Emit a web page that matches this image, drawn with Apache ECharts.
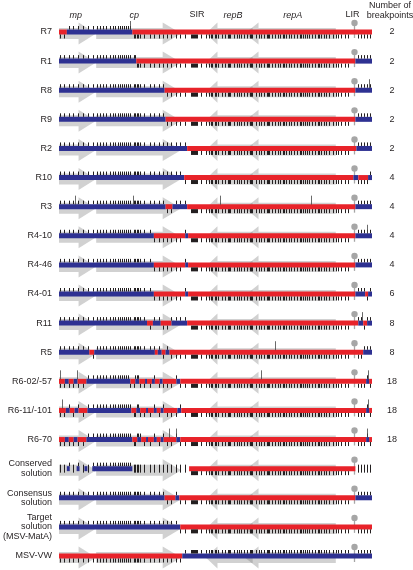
<!DOCTYPE html>
<html><head><meta charset="utf-8">
<script src="https://cdn.jsdelivr.net/npm/echarts@6/dist/echarts.min.js"></script>
<style>html,body{margin:0;padding:0;background:#fff}#c{width:413px;height:570px}</style>
</head><body><div id="c"></div>
<script>
// ---------------- DATA ----------------
const rowNames = ['R7','R1','R8','R9','R2','R10','R3','R4-10','R4-46','R4-01','R11','R5',
  'R6-02/-57','R6-11/-101','R6-70','Conserved\nsolution','Consensus\nsolution',
  'Target\nsolution\n(MSV-MatA)','MSV-VW'];
const breakpointCounts = [2,2,2,2,2,4,4,4,4,6,8,8,18,18,18,'','','',''];
const genomeLength = 2560; // approximate nt
// gene arrows: [name, start, headStart, end, direction]  (direction -1: tip at start)
const geneArrows = [
  ['mp', 0, 160, 304, 1],
  ['cp', 304, 848, 1000, 1],
  ['repB', 1200, 1296, 1584, -1],
  ['repA', 1520, 1632, 2264, -1]
];
// header labels: [text, position, italic]
const featureLabels = [['mp',136,true],['cp',616,true],['SIR',1128,false],['repB',1424,true],['repA',1912,true],['LIR',2400,false]];
const lirPosition = 2416;
// parental origin segments: [parent, start, end]  B = blue parent, R = red parent, W = undetermined
const segR7 = [['R',0,64],['B',64,600],['R',600,2560]];
const segR1 = [['B',0,632],['R',632,2424],['B',2424,2560]];
const segR8 = [['B',0,864],['R',864,2424],['B',2424,2560]];
const segR9 = [['B',0,872],['R',872,2424],['B',2424,2560]];
const segR2 = [['B',0,1048],['R',1048,2432],['B',2432,2560]];
const segR10 = [['B',0,1024],['R',1024,2408],['B',2408,2448],['R',2448,2528],['B',2528,2560]];
const segR3 = [['B',0,872],['R',872,928],['B',928,1048],['R',1048,2424],['B',2424,2560]];
const segR4_10 = [['B',0,776],['R',776,1032],['B',1032,1056],['R',1056,2424],['B',2424,2560]];
const segR4_46 = [['B',0,776],['R',776,1032],['B',1032,1056],['R',1056,2424],['B',2424,2560]];
const segR4_01 = [['B',0,776],['R',776,1032],['B',1032,1056],['R',1056,2424],['B',2424,2504],['R',2504,2528],['B',2528,2560]];
const segR11 = [['B',0,720],['R',720,768],['B',768,832],['R',832,920],['B',920,1048],['R',1048,2448],['B',2448,2488],['R',2488,2520],['B',2520,2560]];
const segR5 = [['B',0,248],['R',248,288],['B',288,784],['R',784,808],['B',808,840],['R',840,872],['B',872,904],['R',904,2488],['B',2488,2560]];
const segR6_02 = [['R',0,48],['B',48,80],['R',80,120],['B',120,152],['R',152,224],['B',224,584],['R',584,624],['B',624,656],['R',656,704],['B',704,720],['R',720,760],['B',760,784],['R',784,824],['B',824,848],['R',848,960],['B',960,992],['R',992,2512],['B',2512,2536],['R',2536,2560]];
const segR6_11 = [['R',0,56],['B',56,88],['R',88,128],['B',128,160],['R',160,232],['B',232,592],['R',592,632],['B',632,664],['R',664,712],['B',712,728],['R',728,776],['B',776,800],['R',800,832],['B',832,856],['R',856,968],['B',968,1000],['R',1000,2512],['B',2512,2536],['R',2536,2560]];
const segR6_70 = [['R',0,48],['B',48,80],['R',80,120],['B',120,152],['R',152,224],['B',224,600],['R',600,640],['B',640,672],['R',672,712],['B',712,728],['R',728,776],['B',776,800],['R',800,832],['B',832,856],['R',856,960],['B',960,992],['R',992,2512],['B',2512,2536],['R',2536,2560]];
const segConserved = [['W',0,64],['B',64,88],['W',88,144],['B',144,168],['W',168,208],['B',208,232],['W',232,272],['B',272,296],['B',288,600],['W',600,1064],['R',1064,2424],['W',2424,2560]];
const segConsensus = [['B',0,864],['R',864,952],['B',952,984],['R',984,2424],['B',2424,2560]];
const segTarget = [['B',0,992],['R',992,2560]];
const segMSVVW = [['R',0,1008],['B',1008,2560]];
const rowSegments = [segR7,segR1,segR8,segR9,segR2,segR10,segR3,segR4_10,segR4_46,segR4_01,segR11,segR5,segR6_02,segR6_11,segR6_70,segConserved,segConsensus,segTarget,segMSVVW];
// polymorphic sites (approximate nt)
const polymorphicSites = [8,40,80,112,152,200,240,280,
  312,336,360,384,416,440,456,480,496,512,528,552,568,584,
  616,624,640,648,664,696,744,776,
  816,848,880,920,960,992,1032,
  1080,1088,1096,1104,1112,1120,1128,1160,
  1200,1224,1240,1248,1272,1288,1304,1336,1360,1384,1392,1400,1432,1456,1472,1488,
  1512,1536,1560,1568,1576,1608,1632,1656,1680,1704,1712,1720,1744,1768,1792,1808,
  1832,1840,1856,1880,1896,1920,1944,1968,1976,1992,2008,2032,2048,2072,2096,2120,2128,
  2144,2168,2184,2208,2240,2264,
  2280,2304,2336,2360,2448,2472,2496,2520,2544];
// additional (tall) mutation marks per row
const rowMutations = [[584],[],[2536],[],[],[],[128,608,1320,2064],[2520],[],[],[2480],[1768],
  [8,144,1656,2528],[24,2528],[896,960,2520],[],[],[],[]];

// ---------------- CHART ----------------
const BLUE = '#2e3192', RED = '#e8232a', INK = '#231f20';
const FONT = 'Liberation Sans, Arial, sans-serif';
const chart = echarts.init(document.getElementById('c'), null, {renderer:'canvas'});
const rowData = rowNames.map((_, i) => [0, i]);

function arrowItem(params, api){
  const row = api.value(1), g = geneArrows[api.value(0)];
  const ps = api.coord([g[1], row]), ph = api.coord([g[2], row]), pe = api.coord([g[3], row]);
  const y = ps[1] + 1.5, b = 5.5, h = 11;
  let pts;
  if (g[4] === 1) {
    pts = [[ps[0],y-b],[ph[0],y-b],[ph[0],y-h],[pe[0],y],[ph[0],y+h],[ph[0],y+b],[ps[0],y+b]];
  } else {
    pts = [[ps[0],y],[ph[0],y-h],[ph[0],y-b],[pe[0],y-b],[pe[0],y+b],[ph[0],y+b],[ph[0],y+h]];
  }
  return {type:'polygon', shape:{points:pts}, style:{fill:'rgba(120,120,120,0.34)'}};
}
const arrowData = [];
rowNames.forEach((_, r) => geneArrows.forEach((g, k) => arrowData.push([k, r])));

function lirItem(params, api){
  const p = api.coord([lirPosition, api.value(1)]);
  const x = Math.round(p[0]) + 0.5, y = p[1];
  return {type:'group', children:[
    {type:'line', shape:{x1:x, y1:y-9, x2:x, y2:y+6}, style:{stroke:'#a6a6a6', lineWidth:1.3}},
    {type:'circle', shape:{cx:x, cy:y-9, r:3.2}, style:{fill:'#a6a6a6'}}
  ]};
}

function barItem(params, api){
  const row = api.value(1);
  const children = [];
  rowSegments[row].forEach(s => {
    if (s[0] === 'W' || s[2] <= s[1]) return;
    const a = api.coord([s[1], row]), b = api.coord([s[2], row]);
    children.push({type:'rect', shape:{x:a[0], y:a[1]-2.5, width:b[0]-a[0], height:5},
      style:{fill: s[0] === 'B' ? BLUE : RED}});
  });
  return {type:'group', children};
}

function parentAt(row, pos){
  const segs = rowSegments[row];
  let found = null;
  for (const s of segs) if (pos >= s[1] && pos < s[2]) found = s[0];
  return found || segs[segs.length-1][0];
}
function tickItem(params, api){
  const row = api.value(1);
  const children = [];
  polymorphicSites.forEach(pos => {
    const p = api.coord([pos, row]);
    const x = Math.round(p[0]) + 0.5, y = p[1];
    const par = parentAt(row, pos);
    let y1, y2;
    if (par === 'B') { y1 = y - 6; y2 = y - 2.5; }
    else if (par === 'R') { y1 = y + 2.5; y2 = y + 6.5; }
    else { y1 = y - 4; y2 = y + 4; }
    children.push({type:'line', shape:{x1:x, y1, x2:x, y2}, style:{stroke:INK, lineWidth:1}});
  });
  rowMutations[row].forEach(pos => {
    const p = api.coord([pos, row]);
    const x = Math.round(p[0]) + 0.5, y = p[1];
    children.push({type:'line', shape:{x1:x, y1:y-11, x2:x, y2:y-2}, style:{stroke:'#444', lineWidth:0.8}});
  });
  return {type:'group', children};
}

function headerItem(params, api){
  const f = featureLabels[params.dataIndex];
  const p = api.coord([f[1], 0]);
  return {type:'text', x:p[0], y:p[1]-17, style:{text:f[0], fill:INK, font:(f[2]?'italic ':'')+'9px '+FONT,
    align:'center', verticalAlign:'middle'}};
}

const yBase = {type:'value', min:0, max:rowNames.length-1, interval:1, inverse:true,
  axisLine:{show:false}, axisTick:{show:false}, splitLine:{show:false}};

chart.setOption({
  animation:false,
  grid:{left:52, right:41, top:32, bottom:14},
  xAxis:{type:'value', min:0, max:genomeLength, show:false},
  yAxis:[
    Object.assign({}, yBase, {position:'left', axisLabel:{margin:7, fontSize:9, color:INK, fontFamily:FONT,
      lineHeight:9.5, align:'right', formatter:v => rowNames[v] || ''}}),
    Object.assign({}, yBase, {position:'right', axisLabel:{margin:20, fontSize:9, color:INK, fontFamily:FONT,
      align:'center', formatter:v => String(breakpointCounts[v] ?? '')}})
  ],
  graphic:[{type:'text', x:390, y:10.5, style:{text:'Number of\nbreakpoints', fill:INK, font:'9px '+FONT,
    align:'center', verticalAlign:'middle', lineHeight:9.5}}],
  series:[
    {type:'custom', renderItem:arrowItem, data:arrowData, silent:true, z:1},
    {type:'custom', renderItem:lirItem, data:rowData, silent:true, z:2},
    {type:'custom', renderItem:barItem, data:rowData, silent:true, z:3},
    {type:'custom', renderItem:tickItem, data:rowData, silent:true, z:4},
    {type:'custom', renderItem:headerItem, data:featureLabels.map(f => [f[1], 0]), silent:true, z:5}
  ]
});
</script></body></html>
